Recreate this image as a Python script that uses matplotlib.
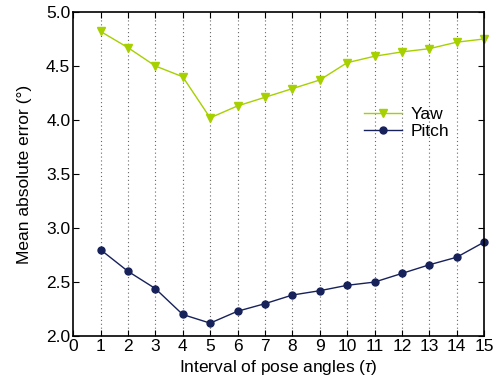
import matplotlib
matplotlib.use("Agg")
from matplotlib import pyplot as plt

plt.rcParams['font.family'] = ['Liberation Sans', 'DejaVu Sans']
plt.rcParams['mathtext.fontset'] = 'custom'
plt.rcParams['mathtext.it'] = 'Liberation Sans:italic'

# Data
intervals = list(range(1, 16))
yaw = [4.82, 4.67, 4.50, 4.40, 4.02, 4.13, 4.21, 4.29, 4.37, 4.53, 4.59, 4.63, 4.66, 4.72, 4.75]
pitch = [2.80, 2.60, 2.44, 2.20, 2.12, 2.23, 2.30, 2.38, 2.42, 2.47, 2.50, 2.58, 2.66, 2.73, 2.87]
xticks = list(range(0, 16))
yticks = [2.0, 2.5, 3.0, 3.5, 4.0, 4.5, 5.0]

fig = plt.figure(figsize=(4.94, 3.85), dpi=100)
ax = fig.add_axes([0.148, 0.127, 0.832, 0.842])

for x in intervals:
    ax.axvline(x, color="#666666", linestyle=(0, (1, 2.5)), linewidth=0.8, zorder=0)

ax.plot(intervals, yaw, color="#a6d000", marker="v", markersize=6, linewidth=1, label="Yaw", clip_on=False)
ax.plot(intervals, pitch, color="#17215a", marker="o", markersize=5, linewidth=1, label="Pitch", clip_on=False)

ax.set_xlim(0, 15)
ax.set_ylim(2.0, 5.0)
ax.set_xticks(xticks)
ax.set_yticks(yticks)
ax.set_yticklabels(["%.1f" % v for v in yticks])
ax.tick_params(direction="in", top=True, right=True, labelsize=12.5, length=4, pad=2)
for s in ax.spines.values():
    s.set_linewidth(1.2)

ax.set_xlabel(r"Interval of pose angles ($\mathit{\tau}$)", fontsize=12.5, labelpad=3)
ax.set_ylabel("Mean absolute error (°)", fontsize=12.5, labelpad=10)

ax.legend(loc="upper left", bbox_to_anchor=(0.67, 0.755), frameon=False, fontsize=12.5,
          handlelength=2.2, handletextpad=0.5, labelspacing=0.1)

plt.savefig("out.png", dpi=100)
